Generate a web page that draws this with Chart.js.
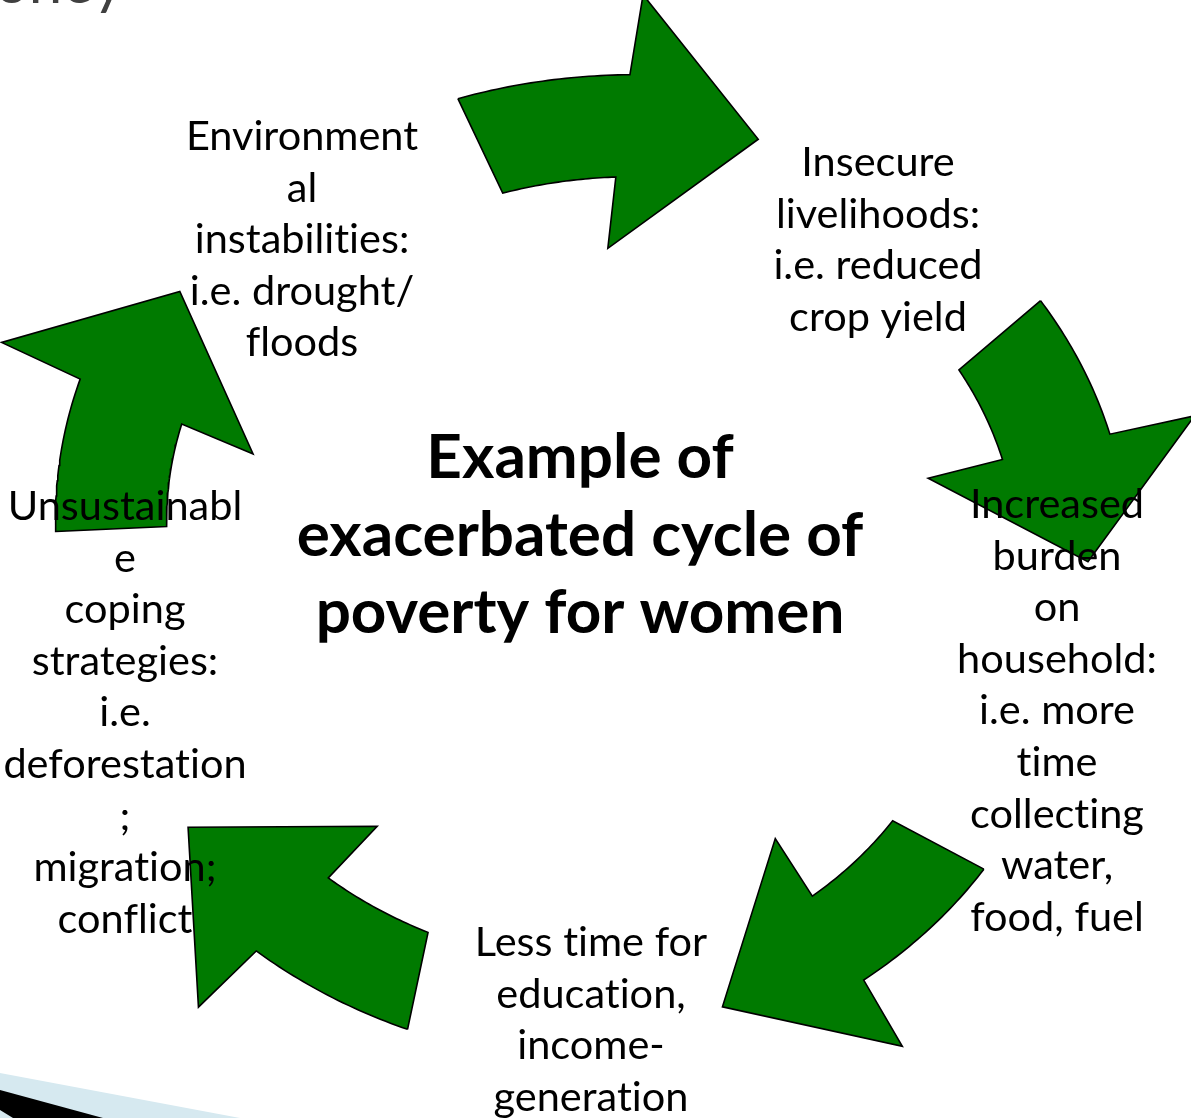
<!DOCTYPE html>
<html><head><meta charset="utf-8">
<script src="https://cdn.jsdelivr.net/npm/chart.js@4.4.1/dist/chart.umd.min.js"></script>
<style>html,body{margin:0;padding:0;background:#fff;overflow:hidden}
#wrap{width:1191px;height:1118px;position:relative}</style></head>
<body><div id="wrap"><canvas id="c"></canvas></div>
<script>
// ---- content ----
const centreTitle = ["Example of", "exacerbated cycle of", "poverty for women"];
const stageLabels = [
  ["Environment", "al", "instabilities:", "i.e. drought/", "floods"],
  ["Insecure", "livelihoods:", "i.e. reduced", "crop yield"],
  ["Increased", "burden", "on", "household:", "i.e. more", "time", "collecting", "water,", "food, fuel"],
  ["Less time for", "education,", "income-", "generation"],
  ["Unsustainabl", "e", "coping", "strategies:", "i.e.", "deforestation", ";", "migration;", "conflict"]
];
const slideTitleFragment = "oney";
// cycle arrows (degrees around the ring): tail, head base, tip
const arrowTail = [256.7, 324.3, 40.6, 109.2, 185.9];
const arrowHeadBase = [273.3, 341.7, 59.3, 127.3, 204.1];
const arrowTip = [288.2, 357.7, 75.1, 144.3, 219.2];

// ---- layout ----
const ring = {cx: 590, cy: 579, rx: 491, ry: 422, rIn: 0.9, rOut: 1.13, headIn: 0.74, headOut: 1.31, tailSkew: 2.3, baseSkew: 3};
const arrowScaleTail = [1.035, 1.0, 0.935, 1.0, 0.968];
const arrowScaleHead = [1.06, 0.985, 0.975, 0.985, 1.01];
const arrowTipR = [1.097, 1.015, 1.049, 1.008, 1.078];
const labelX = [302, 878, 1057, 591, 125];
const labelBaseY = [150, 176, 518, 956, 520];
const lineGap = 51.6;
const titleX = 580, titleBaseY = 478, titleGap = 77.5;

function P(thDeg, r) {
  const t = thDeg * Math.PI / 180;
  return {x: ring.cx + ring.rx * r * Math.cos(t), y: ring.cy + ring.ry * r * Math.sin(t)};
}
function unwrap(a, ref) { while (a < ref - 180) a += 360; while (a > ref + 180) a -= 360; return a; }
function arrowShape(i) {
  const t0 = arrowTail[i];
  const t1 = unwrap(arrowHeadBase[i], t0 + 15);
  const t2 = unwrap(arrowTip[i], t1 + 15);
  const sT = arrowScaleTail[i], sH = arrowScaleHead[i];
  const tb = r => t1 + ring.baseSkew * (r - 1);
  const pts = [];
  const N = 30;
  const oEnd = tb(ring.rOut * sH);
  for (let k = 0; k <= N; k++) {
    const f = k / N;
    pts.push(P(t0 + (oEnd - t0) * f, ring.rOut * (sT + (sH - sT) * f)));
  }
  pts.push(P(tb(ring.headOut * sH), ring.headOut * sH));
  pts.push(P(t2, arrowTipR[i]));
  pts.push(P(tb(ring.headIn * sH), ring.headIn * sH));
  const iEnd = tb(ring.rIn * sH), iStart = t0 + ring.tailSkew;
  for (let k = 0; k <= N; k++) {
    const f = k / N;
    pts.push(P(iEnd + (iStart - iEnd) * f, ring.rIn * (sH + (sT - sH) * f)));
  }
  pts.push({x: pts[0].x, y: pts[0].y});
  return pts;
}

const datasets = arrowTail.map((_, i) => ({
  label: 'arrow' + (i + 1),
  data: arrowShape(i),
  showLine: true,
  fill: 'shape',
  backgroundColor: 'rgb(0,122,0)',
  borderColor: '#000',
  borderWidth: 1.6,
  borderJoinStyle: 'miter',
  tension: 0,
  pointRadius: 0,
  clip: false
}));

// break ligatures so "ti", "fl" render as separate letters
const noLig = s => s.split('').join('\u200C');

const decor = {
  id: 'decor',
  beforeDatasetsDraw(chart) {
    const {ctx, scales: {x, y}} = chart;
    const poly = (pts, col) => {
      ctx.beginPath();
      pts.forEach((p, k) => { const px = x.getPixelForValue(p[0]), py = y.getPixelForValue(p[1]); k ? ctx.lineTo(px, py) : ctx.moveTo(px, py); });
      ctx.closePath(); ctx.fillStyle = col; ctx.fill();
    };
    ctx.save();
    poly([[0, 1073], [240, 1118], [0, 1118]], '#d6e9f0');
    poly([[0, 1090], [103, 1118], [13, 1118], [0, 1110]], '#000');
    ctx.font = '60px Lato';
    ctx.fillStyle = '#404040';
    ctx.textAlign = 'right';
    ctx.textBaseline = 'alphabetic';
    ctx.fillText(slideTitleFragment, x.getPixelForValue(124), y.getPixelForValue(3));
    ctx.restore();
  },
  afterDatasetsDraw(chart) {
    const {ctx, scales: {x, y}} = chart;
    ctx.save();
    ctx.fillStyle = '#000';
    ctx.textAlign = 'center';
    ctx.textBaseline = 'alphabetic';
    ctx.font = '41.5px Lato';
    stageLabels.forEach((lines, i) => {
      lines.forEach((t, k) => ctx.fillText(noLig(t), x.getPixelForValue(labelX[i]), y.getPixelForValue(labelBaseY[i] + k * lineGap)));
    });
    ctx.font = 'bold 62px Lato';
    centreTitle.forEach((t, k) => ctx.fillText(noLig(t), x.getPixelForValue(titleX), y.getPixelForValue(titleBaseY + k * titleGap)));
    ctx.restore();
  }
};

new Chart(document.getElementById('c'), {
  type: 'scatter',
  data: {datasets},
  options: {
    responsive: true, maintainAspectRatio: false, animation: false,
    layout: {padding: 0},
    scales: {
      x: {type: 'linear', min: 0, max: 1191, display: false},
      y: {type: 'linear', min: 0, max: 1118, reverse: true, display: false}
    },
    plugins: {legend: {display: false}, tooltip: {enabled: false}, title: {display: false}}
  },
  plugins: [decor]
});
</script></body></html>
